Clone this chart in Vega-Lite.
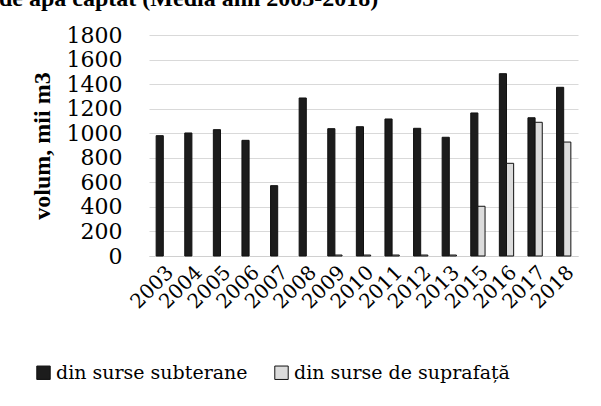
{
  "$schema": "https://vega.github.io/schema/vega-lite/v6.json",
  "width": 429,
  "height": 221,
  "padding": {"left": -1, "top": -13, "right": 20, "bottom": 0},
  "background": "white",
  "title": {"text": "de apă captat (Media anii 2003-2018)", "font": "Liberation Serif", "fontSize": 24, "fontWeight": "bold", "anchor": "start", "frame": "group", "dx": -150, "offset": 13, "color": "black"},
  "data": {"values": [
    {"an": "2003", "sursa": "din surse subterane", "v": 980},
    {"an": "2004", "sursa": "din surse subterane", "v": 1002},
    {"an": "2005", "sursa": "din surse subterane", "v": 1029},
    {"an": "2006", "sursa": "din surse subterane", "v": 942},
    {"an": "2007", "sursa": "din surse subterane", "v": 573},
    {"an": "2008", "sursa": "din surse subterane", "v": 1287},
    {"an": "2009", "sursa": "din surse subterane", "v": 1037},
    {"an": "2010", "sursa": "din surse subterane", "v": 1053},
    {"an": "2011", "sursa": "din surse subterane", "v": 1116},
    {"an": "2012", "sursa": "din surse subterane", "v": 1040},
    {"an": "2013", "sursa": "din surse subterane", "v": 967},
    {"an": "2015", "sursa": "din surse subterane", "v": 1165},
    {"an": "2016", "sursa": "din surse subterane", "v": 1485},
    {"an": "2017", "sursa": "din surse subterane", "v": 1126},
    {"an": "2018", "sursa": "din surse subterane", "v": 1374},
    {"an": "2003", "sursa": "din surse de suprafață", "v": null},
    {"an": "2004", "sursa": "din surse de suprafață", "v": null},
    {"an": "2005", "sursa": "din surse de suprafață", "v": null},
    {"an": "2006", "sursa": "din surse de suprafață", "v": null},
    {"an": "2007", "sursa": "din surse de suprafață", "v": null},
    {"an": "2008", "sursa": "din surse de suprafață", "v": null},
    {"an": "2009", "sursa": "din surse de suprafață", "v": 8},
    {"an": "2010", "sursa": "din surse de suprafață", "v": 8},
    {"an": "2011", "sursa": "din surse de suprafață", "v": 8},
    {"an": "2012", "sursa": "din surse de suprafață", "v": 8},
    {"an": "2013", "sursa": "din surse de suprafață", "v": 8},
    {"an": "2015", "sursa": "din surse de suprafață", "v": 405},
    {"an": "2016", "sursa": "din surse de suprafață", "v": 755},
    {"an": "2017", "sursa": "din surse de suprafață", "v": 1089},
    {"an": "2018", "sursa": "din surse de suprafață", "v": 928}
  ]},
  "mark": {"type": "bar", "stroke": "#111111", "strokeWidth": 1},
  "encoding": {
    "x": {"field": "an", "type": "nominal", "title": null,
      "scale": {"paddingInner": 0.5, "paddingOuter": 0.25},
      "axis": {"labelAngle": -45, "labelFont": "DejaVu Serif", "labelFontSize": 20, "ticks": false, "domainColor": "#d0d0d0", "labelPadding": 6}},
    "xOffset": {"field": "sursa", "type": "nominal", "sort": ["din surse subterane", "din surse de suprafață"]},
    "y": {"field": "v", "type": "quantitative", "title": "volum, mii m3",
      "scale": {"domain": [0, 1800]},
      "axis": {"values": [0,200,400,600,800,1000,1200,1400,1600,1800], "format": "d", "labelFont": "DejaVu Serif", "labelFontSize": 22, "ticks": false, "domain": false, "gridColor": "#d9d9d9", "labelPadding": 27, "titleFont": "Liberation Serif", "titleFontSize": 24, "titleFontWeight": "bold", "titlePadding": 12}},
    "color": {"field": "sursa", "type": "nominal", "sort": ["din surse subterane", "din surse de suprafață"],
      "scale": {"domain": ["din surse subterane", "din surse de suprafață"], "range": ["#1c1c1c", "#dcdcdc"]},
      "legend": {"orient": "none", "legendX": -115, "legendY": 328, "direction": "horizontal", "title": null, "symbolType": "square", "symbolSize": 180, "symbolStrokeColor": "#111111", "symbolStrokeWidth": 1, "labelFont": "DejaVu Serif", "labelFontSize": 19, "columnPadding": 24, "labelLimit": 400, "labelOffset": 3}}
  },
  "config": {
    "view": {"stroke": null},
    "axis": {"labelColor": "black", "titleColor": "black"},
    "legend": {"labelColor": "black"}
  }
}
